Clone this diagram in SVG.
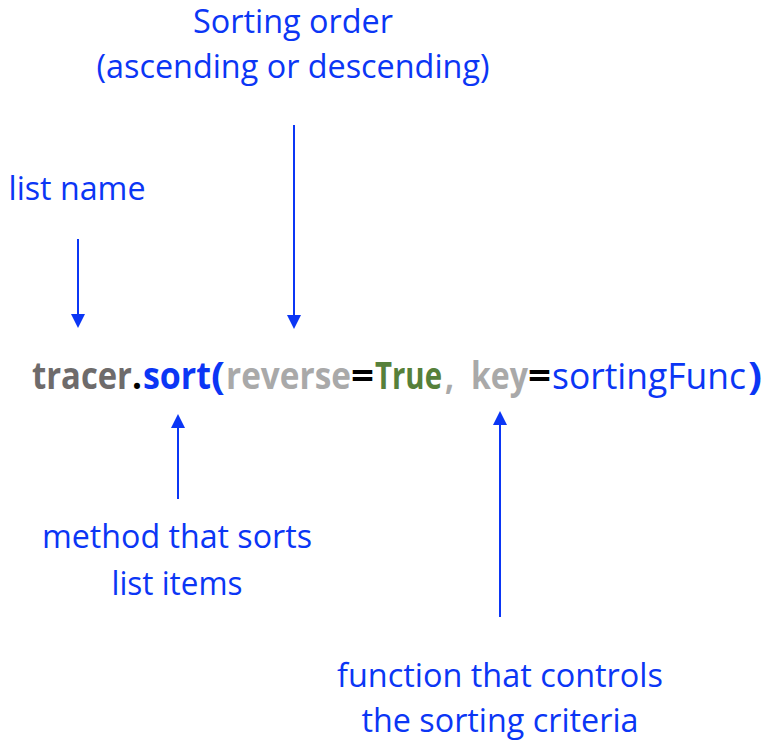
<svg xmlns="http://www.w3.org/2000/svg" width="774" height="748" viewBox="0 0 774 748">
  <defs>
    <style>
      .lbl { font-family: "Open Sans", "Liberation Sans", sans-serif; font-size: 32px; fill: #0B36F5; text-anchor: middle; }
      .code { font-family: "Open Sans", "Liberation Sans", sans-serif; font-size: 37px; font-weight: bold; }
      .reg { font-weight: normal; }
      .conn { stroke: #0B36F5; stroke-width: 2; fill: none; }
    </style>
    <marker id="ah" markerWidth="7" markerHeight="7" refX="6" refY="3.5" orient="auto" markerUnits="strokeWidth">
      <path d="M0,0 L7,3.5 L0,7 Z" fill="#0B36F5"/>
    </marker>
  </defs>
  <rect width="774" height="748" fill="#ffffff"/>

  <g id="connectors">
    <line class="conn" x1="78" y1="239" x2="78" y2="326" marker-end="url(#ah)"/>
    <line class="conn" x1="294" y1="125" x2="294" y2="327" marker-end="url(#ah)"/>
    <line class="conn" x1="178" y1="499" x2="178" y2="416" marker-end="url(#ah)"/>
    <line class="conn" x1="500" y1="617" x2="500" y2="413" marker-end="url(#ah)"/>
  </g>

  <g id="code">
    <text class="code" y="389"><tspan x="32" fill="#6E6B6B" textLength="100" lengthAdjust="spacingAndGlyphs">tracer</tspan><tspan x="132" fill="#000000" textLength="10" lengthAdjust="spacingAndGlyphs">.</tspan><tspan x="143" fill="#0B36F5" textLength="68" lengthAdjust="spacingAndGlyphs">sort</tspan><tspan x="211" fill="#0B36F5" textLength="14" lengthAdjust="spacingAndGlyphs">(</tspan><tspan x="226" fill="#A9A9A9" textLength="125" lengthAdjust="spacingAndGlyphs">reverse</tspan><tspan x="351" fill="#000000" textLength="23" lengthAdjust="spacingAndGlyphs">=</tspan><tspan x="375" fill="#56803A" textLength="67" lengthAdjust="spacingAndGlyphs">True</tspan><tspan x="445" fill="#A9A9A9" textLength="9" lengthAdjust="spacingAndGlyphs">,</tspan><tspan x="471" fill="#A9A9A9" textLength="57" lengthAdjust="spacingAndGlyphs">key</tspan><tspan x="528" fill="#000000" textLength="23" lengthAdjust="spacingAndGlyphs">=</tspan><tspan x="552" class="reg" fill="#0B36F5" textLength="194" lengthAdjust="spacingAndGlyphs">sortingFunc</tspan><tspan x="748" fill="#0B36F5" textLength="14" lengthAdjust="spacingAndGlyphs">)</tspan></text>
  </g>

  <g id="sorting-order">
    <text class="lbl" x="293" y="33" textLength="200" lengthAdjust="spacingAndGlyphs">Sorting order</text>
    <text class="lbl" x="293" y="78" textLength="393" lengthAdjust="spacingAndGlyphs">(ascending or descending)</text>
  </g>

  <g id="list-name">
    <text class="lbl" x="77" y="200" textLength="137" lengthAdjust="spacingAndGlyphs">list name</text>
  </g>

  <g id="method">
    <text class="lbl" x="177" y="548" textLength="270" lengthAdjust="spacingAndGlyphs">method that sorts</text>
    <text class="lbl" x="177" y="595" textLength="131" lengthAdjust="spacingAndGlyphs">list items</text>
  </g>

  <g id="function">
    <text class="lbl" x="500" y="687" textLength="326" lengthAdjust="spacingAndGlyphs">function that controls</text>
    <text class="lbl" x="500" y="732" textLength="277" lengthAdjust="spacingAndGlyphs">the sorting criteria</text>
  </g>
</svg>
